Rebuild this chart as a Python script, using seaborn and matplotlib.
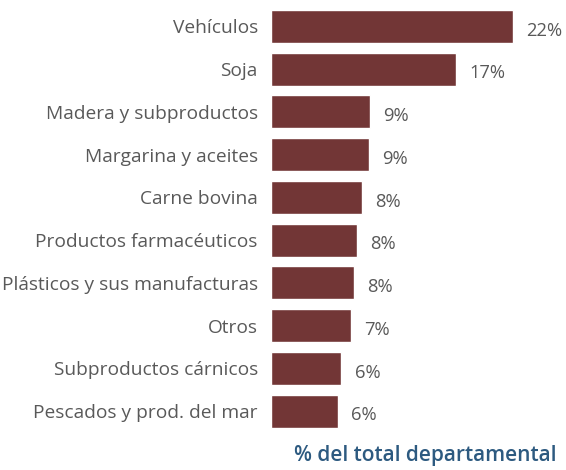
import seaborn as sns
import matplotlib.pyplot as plt
import pandas as pd

# datos (% del total departamental)
categorias = ['Vehículos', 'Soja', 'Madera y subproductos', 'Margarina y aceites',
              'Carne bovina', 'Productos farmacéuticos', 'Plásticos y sus manufacturas',
              'Otros', 'Subproductos cárnicos', 'Pescados y prod. del mar']
valores = [22.0, 16.8, 9.0, 8.9, 8.3, 7.8, 7.5, 7.3, 6.4, 6.1]
etiquetas = ['22%', '17%', '9%', '9%', '8%', '8%', '8%', '7%', '6%', '6%']

df = pd.DataFrame({'cat': categorias, 'val': valores})

sns.set_style('white')
plt.rcParams['font.family'] = ['Open Sans', 'DejaVu Sans']

fig = plt.figure(figsize=(5.66, 4.70), dpi=100)
ax = fig.add_axes([271 / 566, 0.0796, 295 / 566, 0.9096])

sns.barplot(data=df, x='val', y='cat', color='#723636', saturation=1,
            width=0.77, ax=ax)

ax.set_xlim(0, 295 / 11)
ax.set_ylim(9.5, -0.5)
ax.set_xlabel('')
ax.set_ylabel('')
ax.set_xticks([])
ax.tick_params(axis='y', length=0, pad=9.5, labelsize=13.8, labelcolor='#595959')
for s in ax.spines.values():
    s.set_visible(False)

for i, (v, t) in enumerate(zip(valores, etiquetas)):
    ax.text(v + 1.2, i + 0.1, t, va='center', ha='left', fontsize=13.2, color='#595959')

fig.text(425 / 566, 1 - 456 / 470, '% del total departamental', ha='center', va='center',
         fontsize=15, fontweight='semibold', color='#2D5A80')

fig.savefig('out.png', dpi=100)
